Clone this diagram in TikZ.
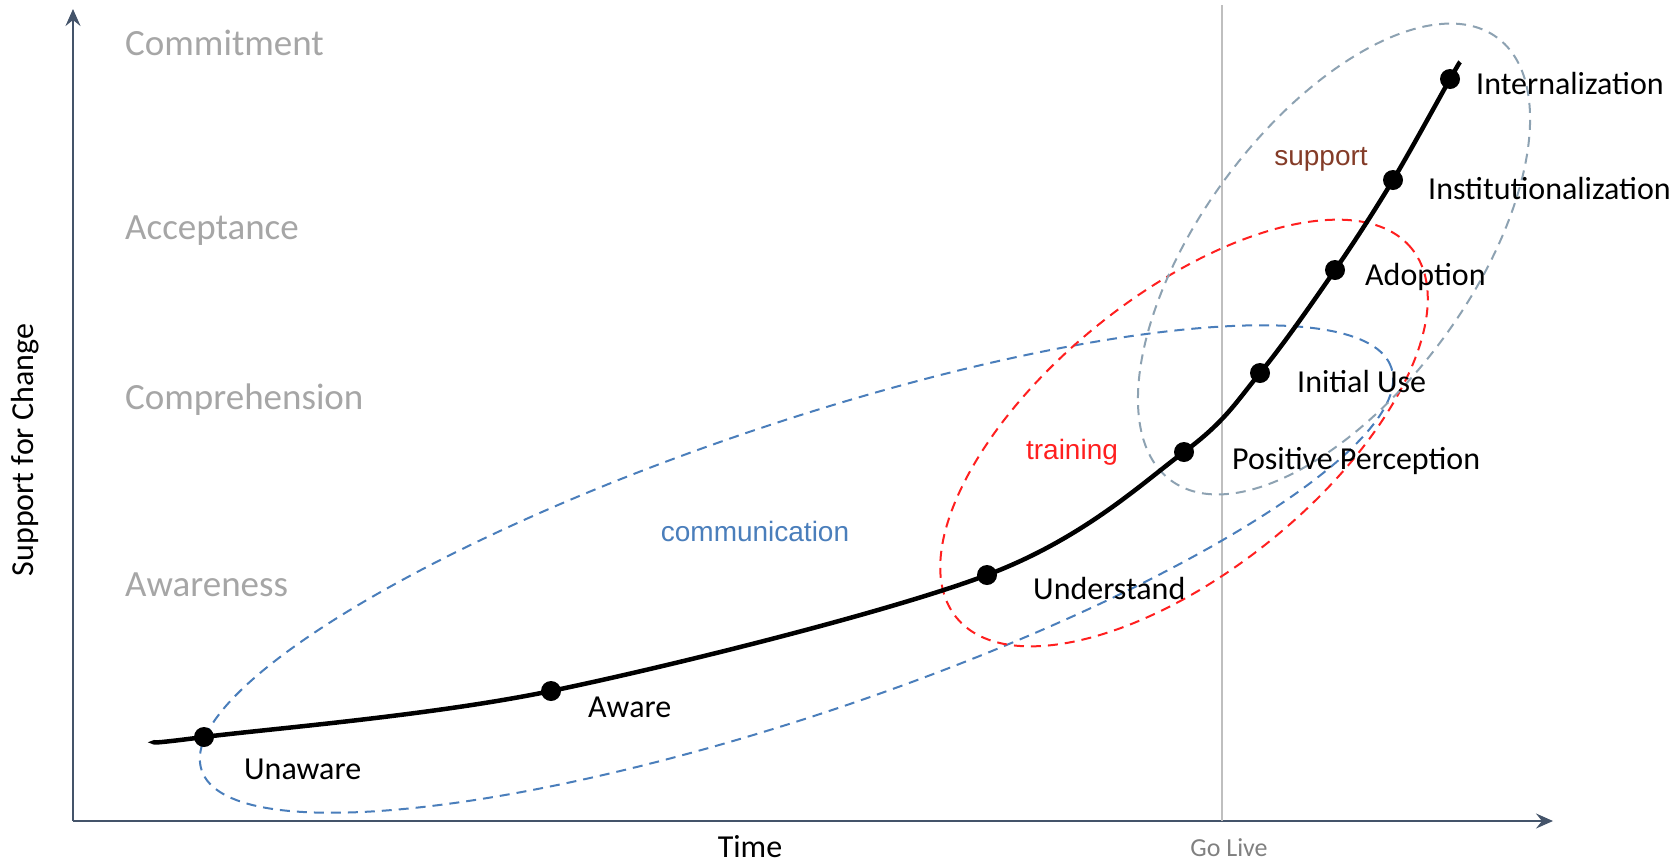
\documentclass[tikz,border=0pt]{standalone}
\usepackage{fontspec}
\setmainfont{Carlito}
\newfontfamily\arialf{Liberation Sans}
\usetikzlibrary{arrows.meta}
\definecolor{axisc}{HTML}{44546A}
\definecolor{levelc}{HTML}{A6A6A6}
\definecolor{golivec}{HTML}{BFBFBF}
\definecolor{commc}{HTML}{4A7EBB}
\definecolor{trainc}{HTML}{FF1F1F}
\definecolor{suppc}{HTML}{8DA2B2}
\definecolor{supptext}{HTML}{843C28}
\begin{document}
\begin{tikzpicture}[x=1pt,y=-1pt,
  axis/.style={draw=axisc,line width=2.4pt,-{Stealth[length=17pt,width=15pt,inset=6pt]}},
  level/.style={anchor=west,text=levelc,font=\fontsize{37}{44}\selectfont,inner sep=0pt},
  stage/.style={anchor=west,text=black,font=\fontsize{32}{38}\selectfont,inner sep=0pt},
  dot/.style={circle,fill=black,minimum size=20pt,inner sep=0pt},
  zone/.style={dashed,line width=2pt,dash pattern=on 10pt off 7pt},
  zonelabel/.style={font=\arialf\fontsize{28}{33}\selectfont,inner sep=0pt}]
\useasboundingbox (0,0) rectangle (1680,863);
% axes
\coordinate (origin) at (73,821);
\coordinate (ytop) at (73,9);
\coordinate (xend) at (1553,821);
\draw[axis] (origin) -- (ytop);
\draw[axis] (origin) -- (xend);
% go live line
\coordinate (gltop) at (1222,5);
\coordinate (glbot) at (1222,821);
\draw[golivec,line width=2pt] (gltop) -- (glbot);
\node[text=gray,font=\fontsize{26}{31}\selectfont,inner sep=0pt] (golive) at (1229,848) {Go Live};
\node[font=\fontsize{32}{38}\selectfont,inner sep=0pt] (time) at (750,847) {Time};
\node[font=\fontsize{32}{38}\selectfont,rotate=90,inner sep=0pt] (ylabel) at (25,450) {Support for Change};
% levels
\node[level] (commitment) at (125,43) {Commitment};
\node[level] (acceptance) at (125,231) {Acceptance};
\node[level] (comprehension) at (125,400) {Comprehension};
\node[level] (awareness) at (125,585) {Awareness};
% zones
\draw[zone,commc,rotate around={18.7:(796.5,569)}] (796.5,569) ellipse [x radius=628pt,y radius=145pt];
\draw[zone,trainc,rotate around={39:(1184,433)}] (1184,433) ellipse [x radius=293pt,y radius=138pt];
\draw[zone,suppc,rotate around={53.6:(1334,259)}] (1334,259) ellipse [x radius=275pt,y radius=135pt];
\node[zonelabel,text=commc] (comm) at (755,531) {communication};
\node[zonelabel,text=trainc] (train) at (1072,452) {training};
\node[zonelabel,text=supptext] (supp) at (1321,159) {support};
% curve
\coordinate (cstart) at (155,742);
\coordinate (p1) at (204,737);
\coordinate (p2) at (551,691);
\coordinate (p3) at (987,575);
\coordinate (p4) at (1184,452);
\coordinate (p5) at (1260,373);
\coordinate (p6) at (1335,270);
\coordinate (p7) at (1393,180);
\coordinate (p8) at (1450,79);
\coordinate (cend) at (1460,62);
\draw[line width=4.5pt] plot[smooth,tension=0.55] coordinates {(cstart) (p1) (p2) (p3) (p4) (p5) (p6) (p7) (p8) (cend)};
\foreach \p in {p1,p2,p3,p4,p5,p6,p7,p8} \node[dot] (d\p) at (\p) {};
% stage labels
\node[stage] (unaware) at (244,769) {Unaware};
\node[stage] (aware) at (588,707) {Aware};
\node[stage] (understand) at (1033,588) {Understand};
\node[stage] (posperc) at (1232,461) {Positive Perception};
\node[stage] (inituse) at (1297,381) {Initial Use};
\node[stage] (adoption) at (1365,277) {Adoption};
\node[stage] (instit) at (1428,189) {Institutionalization};
\node[stage] (intern) at (1476,84) {Internalization};
\end{tikzpicture}
\end{document}
